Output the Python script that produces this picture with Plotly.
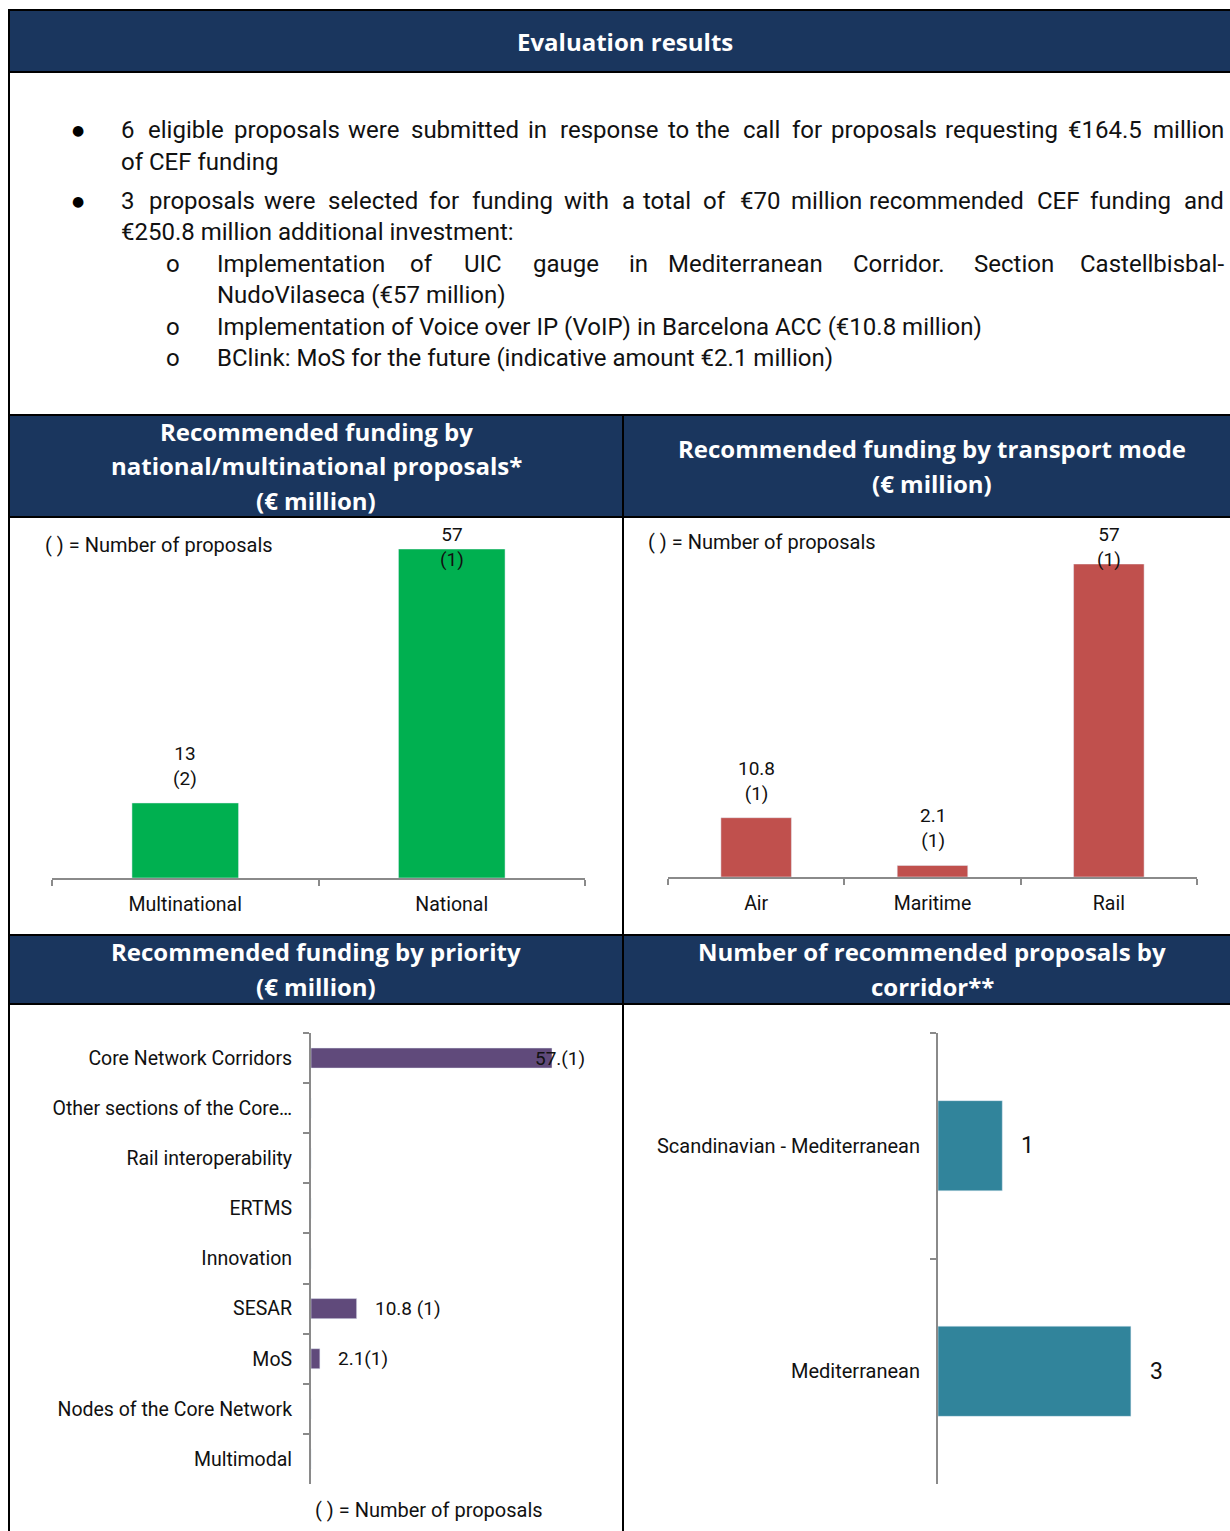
import plotly.graph_objects as go

W, H = 1230, 1531

def px(x):
    return x / W

def py(y):
    return 1 - y / H

# ---------------- data ----------------
nat_categories = ["Multinational", "National"]
nat_values = [13, 57]
nat_counts = [2, 1]

mode_categories = ["Air", "Maritime", "Rail"]
mode_values = [10.8, 2.1, 57]
mode_counts = [1, 1, 1]

priority_categories = ["Core Network Corridors", "Other sections of the Core…",
                       "Rail interoperability", "ERTMS", "Innovation", "SESAR",
                       "MoS", "Nodes of the Core Network", "Multimodal"]
priority_values = [57, 0, 0, 0, 0, 10.8, 2.1, 0, 0]
priority_labels = ["57.(1)", "", "", "", "", "10.8 (1)", "2.1(1)", "", ""]

corridor_categories = ["Scandinavian - Mediterranean", "Mediterranean"]
corridor_values = [1, 3]

# ---------------- style ----------------
FONT = "Roboto"
TFONT = "Open Sans"
NAVY = "#1A365E"
AXIS = "#8A8A8A"
GREEN = "#00B050"
RED = "#C0504D"
PURPLE = "#604A7B"
TEAL = "#31849B"
TXT = "#111111"

fig = go.Figure()

# bars
fig.add_trace(go.Bar(x=nat_categories, y=nat_values, width=0.4, marker_color=GREEN,
                     xaxis="x", yaxis="y", hoverinfo="skip"))
fig.add_trace(go.Bar(x=mode_categories, y=mode_values, width=0.4, marker_color=RED,
                     xaxis="x2", yaxis="y2", hoverinfo="skip"))
fig.add_trace(go.Bar(y=priority_categories, x=priority_values, orientation="h", width=0.4,
                     marker_color=PURPLE, xaxis="x3", yaxis="y3", hoverinfo="skip"))
fig.add_trace(go.Bar(y=corridor_categories, x=corridor_values, orientation="h", width=0.4,
                     marker_color=TEAL, xaxis="x4", yaxis="y4", hoverinfo="skip"))

shapes = []

def rect(x0, y0, x1, y1, fill):
    shapes.append(dict(type="rect", xref="paper", yref="paper",
                       x0=px(x0), x1=px(x1), y0=py(y1), y1=py(y0),
                       fillcolor=fill, line=dict(color="black", width=2), layer="below"))

rect(9, 10, 1240, 72, NAVY)
rect(9, 72, 1240, 415, "white")
rect(9, 415, 623, 517, NAVY)
rect(623, 415, 1240, 517, NAVY)
rect(9, 517, 623, 935, "white")
rect(623, 517, 1240, 935, "white")
rect(9, 935, 623, 1004, NAVY)
rect(623, 935, 1240, 1004, NAVY)
rect(9, 1004, 623, 1545, "white")
rect(623, 1004, 1240, 1545, "white")

ann = []

def text(x, y, t, size=22, color=TXT, xanchor="left", bold=False, family=FONT):
    ann.append(dict(x=px(x), y=py(y), xref="paper", yref="paper", text=("<b>%s</b>" % t) if bold else t,
                    showarrow=False, xanchor=xanchor, yanchor="middle",
                    font=dict(family=family, size=size, color=color)))

def title(x, y, t):
    text(x, y, t, 24, "white", "center", True, TFONT)

# header titles
title(625, 41, "Evaluation results")
for t, y in [("Recommended funding by", 432), ("national/multinational proposals*", 466), ("(€ million)", 500)]:
    title(316, y, t)
for t, y in [("Recommended funding by transport mode", 449), ("(€ million)", 483)]:
    title(932, y, t)
for t, y in [("Recommended funding by priority", 952), ("(€ million)", 986)]:
    title(316, y, t)
for t, y in [("Number of recommended proposals by", 952), ("corridor**", 986)]:
    title(932, y, t)

# approximate Roboto advance widths (em) for justification
CW = {}
for ch, w in zip("abcdefghijklmnopqrstuvwxyz",
                 [.544, .561, .523, .564, .530, .347, .561, .551, .243, .239, .507, .243, .876,
                  .552, .570, .561, .568, .338, .515, .327, .551, .484, .751, .496, .473, .496]):
    CW[ch] = w
for ch, w in zip("ABCDEFGHIJKLMNOPQRSTUVWXYZ",
                 [.652, .622, .651, .655, .568, .553, .681, .713, .272, .552, .627, .538, .873,
                  .713, .688, .631, .688, .616, .593, .596, .648, .636, .887, .627, .601, .599]):
    CW[ch] = w
for ch in "0123456789€":
    CW[ch] = .561
CW.update({".": .263, ",": .196, "(": .342, ")": .348, "-": .276, ":": .242})
CAL = 0.95

def wwidth(word, size):
    return sum(CW.get(c, .55) for c in word) * size * CAL

def justified(x0, x1, y, line, size=22):
    words = line.split(" ")
    n = len(words)
    widths = [wwidth(w, size) for w in words]
    gap = (x1 - x0 - sum(widths)) / (n - 1)
    half = (n + 1) // 2
    x = x0
    for i in range(half):
        text(x, y, words[i], size, TXT, "left")
        x += widths[i] + gap
    x = x1
    for i in reversed(range(half, n)):
        text(x, y, words[i], size, TXT, "right")
        x -= widths[i] + gap

BODY = 24
for y in (130, 201):
    text(78, y, "●", 14, "black", "center", family="DejaVu Sans")
for y in (264, 327, 358):
    text(173, y, "o", BODY, TXT, "center")
justified(119, 1226, 130, "6 eligible proposals were submitted in response to the call for proposals requesting €164.5 million", BODY)
text(119, 162, "of CEF funding", BODY)
justified(119, 1226, 201, "3 proposals were selected for funding with a total of €70 million recommended CEF funding and", BODY)
text(119, 232, "€250.8 million additional investment:", BODY)
justified(215, 1226, 264, "Implementation of UIC gauge in Mediterranean Corridor. Section Castellbisbal-", BODY)
text(215, 295, "NudoVilaseca (€57 million)", BODY)
text(215, 327, "Implementation of Voice over IP (VoIP) in Barcelona ACC (€10.8 million)", BODY)
text(215, 358, "BClink: MoS for the future (indicative amount €2.1 million)", BODY)

# notes
text(43, 545, "( ) = Number of proposals", 20)
text(646, 542, "( ) = Number of proposals", 20)
text(429, 1510, "( ) = Number of proposals", 20, TXT, "center")

# value labels
nat_shift = [37, 2]
for c, v, n, s in zip(nat_categories, nat_values, nat_counts, nat_shift):
    ann.append(dict(x=c, y=v, xref="x", yref="y", text="%g<br>(%d)" % (v, n), showarrow=False,
                    yanchor="middle", yshift=s, font=dict(family=FONT, size=19, color=TXT)))
mode_shift = [37, 37, 17]
for c, v, n, s in zip(mode_categories, mode_values, mode_counts, mode_shift):
    ann.append(dict(x=c, y=v, xref="x2", yref="y2", text="%g<br>(%d)" % (v, n), showarrow=False,
                    yanchor="middle", yshift=s, font=dict(family=FONT, size=19, color=TXT)))
pri_shift = [-19, 0, 0, 0, 0, 16, 16, 0, 0]
for c, v, lab, s in zip(priority_categories, priority_values, priority_labels, pri_shift):
    if lab:
        ann.append(dict(x=v, y=c, xref="x3", yref="y3", text=lab, showarrow=False,
                        xanchor="left", xshift=s, font=dict(family=FONT, size=19, color=TXT)))
for c, v in zip(corridor_categories, corridor_values):
    ann.append(dict(x=v, y=c, xref="x4", yref="y4", text="%d" % v, showarrow=False,
                    xanchor="left", xshift=17, font=dict(family=FONT, size=23, color=TXT)))

cat_axis = dict(type="category", showline=True, linecolor=AXIS, linewidth=2, ticks="outside",
                tickson="boundaries", ticklen=6, tickwidth=2, tickcolor=AXIS, showgrid=False,
                zeroline=False, fixedrange=True)
hidden = dict(visible=False, showgrid=False, zeroline=False, fixedrange=True)

fig.update_layout(
    width=W, height=H, margin=dict(l=0, r=0, t=0, b=0),
    paper_bgcolor="white", plot_bgcolor="rgba(0,0,0,0)",
    showlegend=False, shapes=shapes, annotations=ann,
    font=dict(family=FONT, color=TXT),
    xaxis=dict(cat_axis, domain=[px(52), px(585)], anchor="y", range=[-0.5, 1.5],
               tickfont=dict(size=19.5), ticklabelstandoff=8),
    yaxis=dict(hidden, domain=[py(878), py(549)], anchor="x", range=[0, 57]),
    xaxis2=dict(cat_axis, domain=[px(668), px(1197)], anchor="y2", range=[-0.5, 2.5],
                tickfont=dict(size=19.5), ticklabelstandoff=8),
    yaxis2=dict(hidden, domain=[py(877), py(564)], anchor="x2", range=[0, 57]),
    xaxis3=dict(hidden, domain=[px(311), px(311 + 60 * 4.228)], anchor="y3", range=[0, 60]),
    yaxis3=dict(cat_axis, domain=[py(1484), py(1033)], anchor="x3", range=[8.5, -0.5],
                tickfont=dict(size=19.5), ticklabelstandoff=13),
    xaxis4=dict(hidden, domain=[px(938), px(938 + 3.5 * 64.3)], anchor="y4", range=[0, 3.5]),
    yaxis4=dict(cat_axis, domain=[py(1484), py(1033)], anchor="x4", range=[1.5, -0.5],
                tickfont=dict(size=20), ticklabelstandoff=12),
)

fig.write_html("out.html", config={"displayModeBar": False},
               post_script="document.body.style.margin='0';")
